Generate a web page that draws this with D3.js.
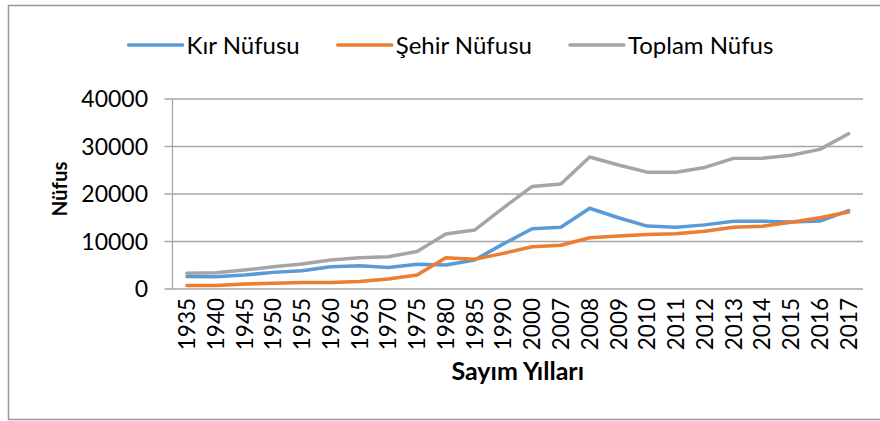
<!DOCTYPE html>
<html>
<head>
<meta charset="utf-8">
<script src="https://cdn.jsdelivr.net/npm/d3@7"></script>
<style>
  body { margin: 0; background: #fff; }
  text { font-family: 'Lato', 'Liberation Sans', sans-serif; fill: #000; }
</style>
</head>
<body>
<script>
// data
var years = ["1935","1940","1945","1950","1955","1960","1965","1970","1975","1980","1985","1990",
             "2000","2007","2008","2009","2010","2011","2012","2013","2014","2015","2016","2017"];
var kirNufusu = [2650, 2600, 2950, 3500, 3850, 4700, 4900, 4550, 5200, 5050, 6100, 9500,
                 12700, 13000, 17000, 15000, 13250, 13000, 13500, 14250, 14250, 14100, 14300, 16500];
var sehirNufusu = [750, 750, 1050, 1200, 1350, 1350, 1600, 2100, 2950, 6600, 6250, 7500,
                   8900, 9200, 10800, 11150, 11450, 11650, 12150, 13000, 13200, 14050, 15000, 16200];
var toplamNufus = [3300, 3400, 4000, 4700, 5250, 6100, 6600, 6800, 7900, 11600, 12400, 17100,
                   21600, 22100, 27800, 26100, 24600, 24600, 25600, 27500, 27550, 28150, 29400, 32700];
var yTicks = [0, 10000, 20000, 30000, 40000];

var seriesNames = ["Kır Nüfusu", "Şehir Nüfusu", "Toplam Nüfus"];
var seriesColors = ["#5b9bd5", "#ed7d31", "#a5a5a5"];
var seriesValues = [kirNufusu, sehirNufusu, toplamNufus];

// sizes
var w = 880, h = 421;
var plotLeft = 172.5, plotRight = 863, plotTop = 99, plotBottom = 289;

var svg = d3.select("body")
	.append("svg")
	.attr("width", w)
	.attr("height", h);

// outer frame
svg.append("rect")
	.attr("x", 8.5)
	.attr("y", 5.5)
	.attr("width", 900)
	.attr("height", 414)
	.attr("fill", "none")
	.attr("stroke", "#999")
	.attr("stroke-width", 1.5);

var x = d3.scalePoint()
	.domain(years)
	.range([plotLeft, plotRight])
	.padding(0.5);

var y = d3.scaleLinear()
	.domain([0, 40000])
	.range([plotBottom, plotTop]);

// gridlines
svg.append("g")
	.selectAll("line")
	.data(yTicks)
	.enter()
	.append("line")
	   .attr("x1", plotLeft - 8)
	   .attr("x2", plotRight)
	   .attr("y1", function(d) { return y(d); })
	   .attr("y2", function(d) { return y(d); })
	   .attr("stroke", "#a6a6a6")
	   .attr("stroke-width", 1.3);

// y axis line
svg.append("line")
	.attr("x1", plotLeft)
	.attr("x2", plotLeft)
	.attr("y1", y(40000))
	.attr("y2", y(0))
	.attr("stroke", "#a6a6a6")
	.attr("stroke-width", 1.3);

// y tick labels
svg.append("g")
	.selectAll("text")
	.data(yTicks)
	.enter()
	.append("text")
	   .attr("x", 148)
	   .attr("y", function(d) { return y(d); })
	   .attr("dy", "0.36em")
	   .attr("text-anchor", "end")
	   .style("font-size", "23px")
	   .text(function(d) { return d; });

// x tick labels
svg.append("g")
	.selectAll("text")
	.data(years)
	.enter()
	.append("text")
	   .attr("transform", function(d) { return "translate(" + x(d) + ",298) rotate(-90)"; })
	   .attr("dy", "0.36em")
	   .attr("text-anchor", "end")
	   .style("font-size", "22.5px")
	   .text(function(d) { return d; });

// lines
var line = d3.line()
	.x(function(d, i) { return x(years[i]); })
	.y(function(d) { return y(d); });

svg.append("g")
	.selectAll("path")
	.data(seriesValues)
	.enter()
	.append("path")
	   .attr("d", line)
	   .attr("fill", "none")
	   .attr("stroke", function(d, i) { return seriesColors[i]; })
	   .attr("stroke-width", 3.5)
	   .attr("stroke-linejoin", "round")
	   .attr("stroke-linecap", "round");

// axis titles
svg.append("text")
	.attr("x", (plotLeft + plotRight) / 2)
	.attr("y", 380)
	.attr("text-anchor", "middle")
	.style("font-size", "25px")
	.style("font-weight", "bold")
	.text("Sayım Yılları");

svg.append("text")
	.attr("transform", "translate(67,189) rotate(-90)")
	.attr("text-anchor", "middle")
	.style("font-size", "20.5px")
	.style("font-weight", "bold")
	.text("Nüfus");

// legend
var legend = svg.append("g");
var lx = 0;
seriesNames.forEach(function(name, i) {
	var item = legend.append("g").attr("transform", "translate(" + lx + ",0)");
	item.append("line")
		.attr("x1", 0)
		.attr("x2", 54)
		.attr("y1", 45)
		.attr("y2", 45)
		.attr("stroke", seriesColors[i])
		.attr("stroke-width", 3.5)
		.attr("stroke-linecap", "round");
	var t = item.append("text")
		.attr("x", 58)
		.attr("y", 45)
		.attr("dy", "0.36em")
		.style("font-size", "24px")
		.text(name);
	lx += 58 + t.node().getComputedTextLength() + 38;
});
lx -= 38;
legend.attr("transform", "translate(" + (451 - lx / 2) + ",0)");
</script>
</body>
</html>
